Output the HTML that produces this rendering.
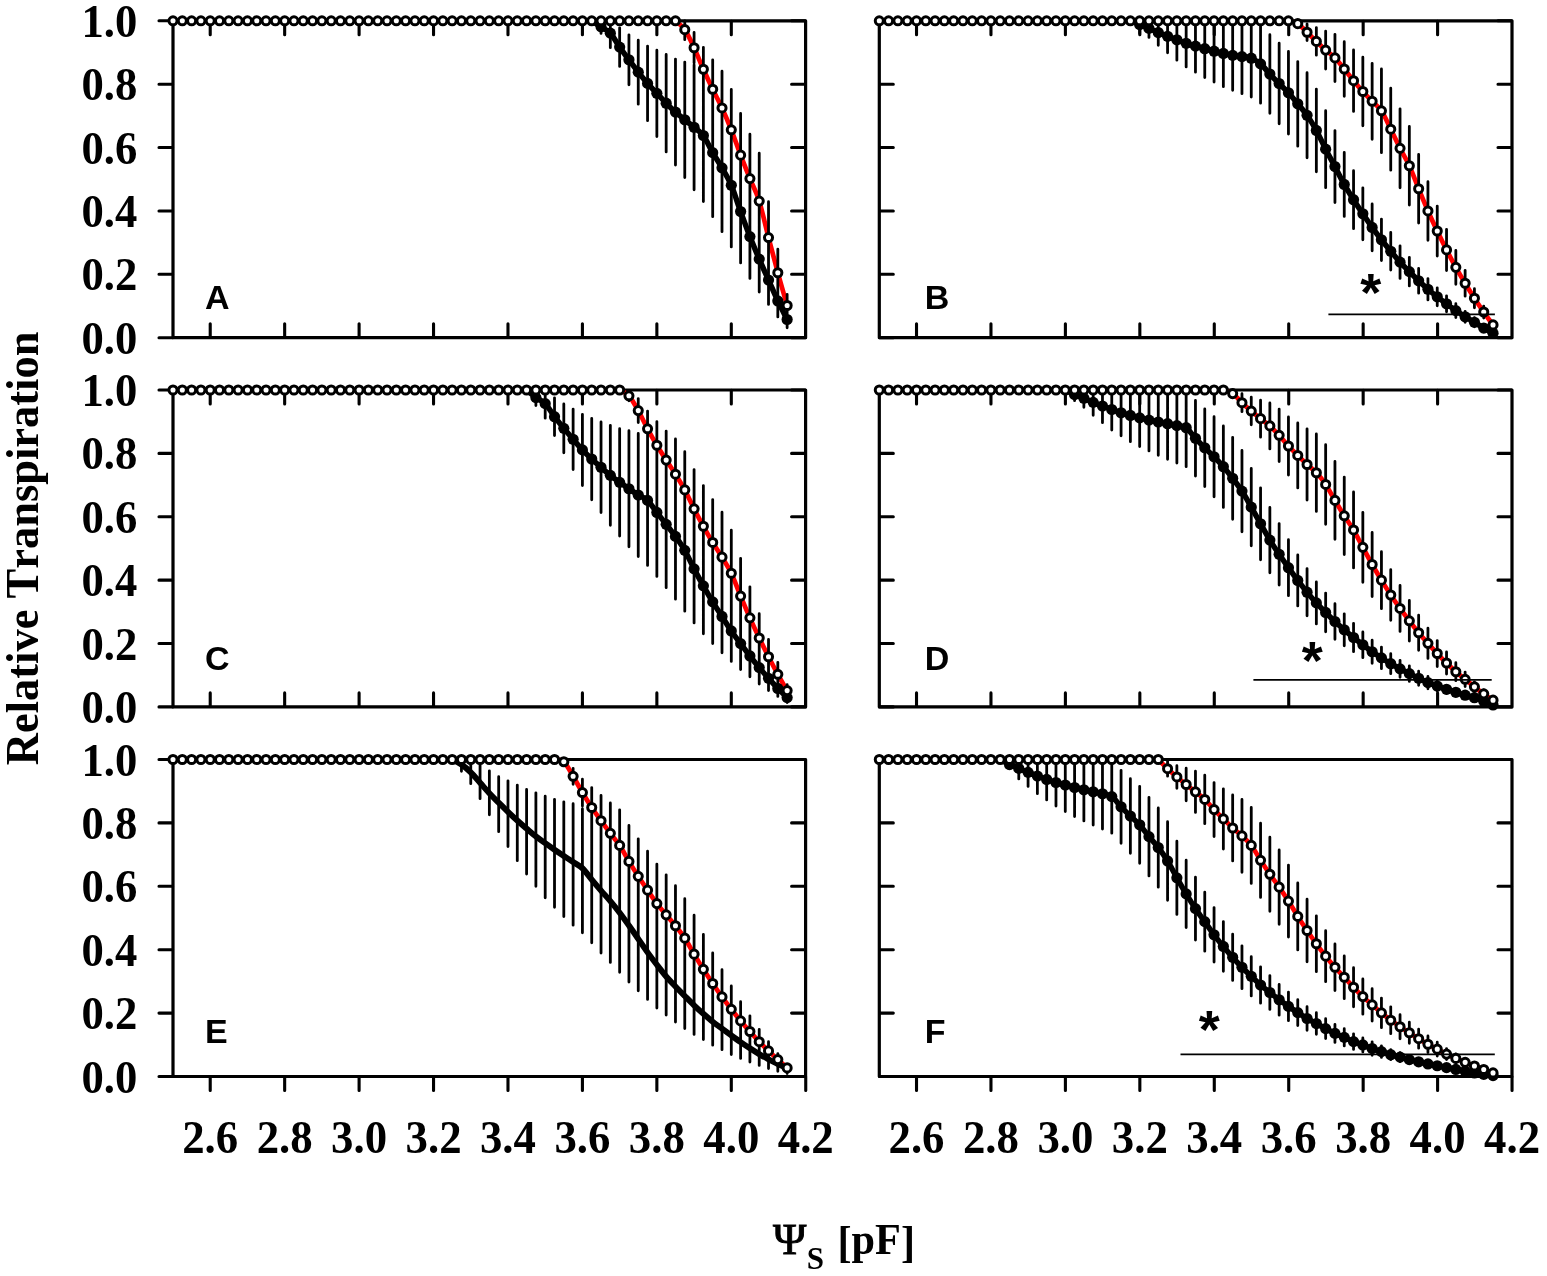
<!DOCTYPE html>
<html lang="en">
<head>
<meta charset="utf-8">
<title>Relative Transpiration vs soil water potential</title>
<style>
html,body{margin:0;padding:0;background:#fff;}
body{width:1547px;height:1276px;overflow:hidden;}
svg{display:block;}
text{fill:#000;font-kerning:none;}

.tk{font-family:"Liberation Serif","DejaVu Serif",serif;font-weight:bold;font-size:46px;}
.ax{font-family:"Liberation Serif","DejaVu Serif",serif;font-weight:bold;font-size:47px;}
.sub{font-family:"Liberation Serif","DejaVu Serif",serif;font-weight:bold;font-size:31px;}
.pl{font-family:"Liberation Sans","DejaVu Sans",sans-serif;font-weight:bold;font-size:34px;}
.star{font-family:"Liberation Sans","DejaVu Sans",sans-serif;font-weight:bold;font-size:54px;}
</style>
</head>
<body>
<svg width="1547" height="1276" viewBox="0 0 1547 1276">
<rect width="1547" height="1276" fill="#fff"/>
<g id="panelA">
<rect x="173" y="20.8" width="632.6" height="316.9" fill="none" stroke="#000" stroke-width="3.2" stroke-linejoin="round"/>
<path d="M159 337.7H172.6M791.6 337.7H805.2M159 274.32H172.6M791.6 274.32H805.2M159 210.94H172.6M791.6 210.94H805.2M159 147.56H172.6M791.6 147.56H805.2M159 84.18H172.6M791.6 84.18H805.2M159 20.8H172.6M791.6 20.8H805.2M210.22 21.2V34.8M210.22 323.7V337.3M284.66 21.2V34.8M284.66 323.7V337.3M359.1 21.2V34.8M359.1 323.7V337.3M433.54 21.2V34.8M433.54 323.7V337.3M507.98 21.2V34.8M507.98 323.7V337.3M582.42 21.2V34.8M582.42 323.7V337.3M656.86 21.2V34.8M656.86 323.7V337.3M731.3 21.2V34.8M731.3 323.7V337.3" fill="none" stroke="#000" stroke-width="3.1" stroke-linecap="round"/>
<path d="M675.47 20.8C677.02 22.28 681.67 25.18 684.77 29.67C687.88 34.16 690.98 41.13 694.08 47.74C697.18 54.34 700.28 62.37 703.38 69.29C706.49 76.2 709.59 82.81 712.69 89.25C715.79 95.69 718.89 101.19 722 107.95C725.1 114.71 728.2 121.94 731.3 129.81C734.4 137.68 737.5 147.03 740.61 155.17C743.71 163.3 746.81 170.96 749.91 178.62C753.01 186.27 756.11 191.29 759.22 201.12C762.32 210.94 765.42 225.62 768.52 237.56C771.62 249.5 774.72 261.41 777.82 272.74C780.93 284.06 785.58 300.07 787.13 305.53" fill="none" stroke="#f00" stroke-width="4.7" stroke-linejoin="round"/>
<path d="M684.77 20.8V39.67M694.08 32.44V63.04M703.38 47.29V91.29M712.69 59.85V118.65M722 71.15V144.75M731.3 89.41V170.21M740.61 113.47V196.87M749.91 134.22V223.02M759.22 153.22V249.02M768.52 201.76V273.36M777.82 249.24V296.24M787.13 294.33V316.73M601.03 20.8V33.42M610.34 20.8V47.66M619.64 27.8V66.4M628.94 34.78V84.78M638.25 40.14V104.14M647.56 46.09V120.69M656.86 50.17V136.57M666.17 54.49V151.89M675.47 59.07V165.07M684.77 62.1V177.5M694.08 64.78V189.78M703.38 69.52V201.52M712.69 88.63V216.63M722 104.04V231.64M731.3 123.57V246.97M740.61 160.17V262.97M749.91 194.81V278.41M759.22 226.11V292.11M768.52 255.62V304.42M777.82 284.94V316.94M787.13 311.18V327.78" fill="none" stroke="#000" stroke-width="2.8" stroke-linecap="round"/>
<path d="M591.72 20.8C593.28 21.8 597.93 24.76 601.03 26.82C604.13 28.88 607.23 29.78 610.34 33.16C613.44 36.54 616.54 42.67 619.64 47.1C622.74 51.54 625.84 55.61 628.94 59.78C632.05 63.95 635.15 68.2 638.25 72.14C641.35 76.07 644.45 79.85 647.56 83.39C650.66 86.93 653.76 90.07 656.86 93.37C659.96 96.67 663.06 100.08 666.17 103.19C669.27 106.31 672.37 109.3 675.47 112.07C678.57 114.83 681.67 117.26 684.77 119.8C687.88 122.33 690.98 124.66 694.08 127.28C697.18 129.9 700.28 131.29 703.38 135.52C706.49 139.74 709.59 147.24 712.69 152.63C715.79 158.02 718.89 162.4 722 167.84C725.1 173.28 728.2 177.98 731.3 185.27C734.4 192.56 737.5 203.02 740.61 211.57C743.71 220.13 746.81 228.69 749.91 236.61C753.01 244.53 756.11 251.87 759.22 259.11C762.32 266.34 765.42 273.05 768.52 280.02C771.62 287 774.72 294.36 777.82 300.94C780.93 307.52 785.58 316.39 787.13 319.48" fill="none" stroke="#000" stroke-width="5.5" stroke-linejoin="round" stroke-linecap="round"/>
<g fill="#000"><circle cx="601.03" cy="26.82" r="5.6"/><circle cx="610.34" cy="33.16" r="5.6"/><circle cx="619.64" cy="47.1" r="5.6"/><circle cx="628.94" cy="59.78" r="5.6"/><circle cx="638.25" cy="72.14" r="5.6"/><circle cx="647.56" cy="83.39" r="5.6"/><circle cx="656.86" cy="93.37" r="5.6"/><circle cx="666.17" cy="103.19" r="5.6"/><circle cx="675.47" cy="112.07" r="5.6"/><circle cx="684.77" cy="119.8" r="5.6"/><circle cx="694.08" cy="127.28" r="5.6"/><circle cx="703.38" cy="135.52" r="5.6"/><circle cx="712.69" cy="152.63" r="5.6"/><circle cx="722" cy="167.84" r="5.6"/><circle cx="731.3" cy="185.27" r="5.6"/><circle cx="740.61" cy="211.57" r="5.6"/><circle cx="749.91" cy="236.61" r="5.6"/><circle cx="759.22" cy="259.11" r="5.6"/><circle cx="768.52" cy="280.02" r="5.6"/><circle cx="777.82" cy="300.94" r="5.6"/><circle cx="787.13" cy="319.48" r="5.6"/></g>
<g fill="#fff" stroke="#000" stroke-width="3.0"><circle cx="173" cy="20.8" r="4.05"/><circle cx="182.31" cy="20.8" r="4.05"/><circle cx="191.61" cy="20.8" r="4.05"/><circle cx="200.91" cy="20.8" r="4.05"/><circle cx="210.22" cy="20.8" r="4.05"/><circle cx="219.53" cy="20.8" r="4.05"/><circle cx="228.83" cy="20.8" r="4.05"/><circle cx="238.13" cy="20.8" r="4.05"/><circle cx="247.44" cy="20.8" r="4.05"/><circle cx="256.75" cy="20.8" r="4.05"/><circle cx="266.05" cy="20.8" r="4.05"/><circle cx="275.36" cy="20.8" r="4.05"/><circle cx="284.66" cy="20.8" r="4.05"/><circle cx="293.97" cy="20.8" r="4.05"/><circle cx="303.27" cy="20.8" r="4.05"/><circle cx="312.57" cy="20.8" r="4.05"/><circle cx="321.88" cy="20.8" r="4.05"/><circle cx="331.19" cy="20.8" r="4.05"/><circle cx="340.49" cy="20.8" r="4.05"/><circle cx="349.8" cy="20.8" r="4.05"/><circle cx="359.1" cy="20.8" r="4.05"/><circle cx="368.4" cy="20.8" r="4.05"/><circle cx="377.71" cy="20.8" r="4.05"/><circle cx="387.01" cy="20.8" r="4.05"/><circle cx="396.32" cy="20.8" r="4.05"/><circle cx="405.62" cy="20.8" r="4.05"/><circle cx="414.93" cy="20.8" r="4.05"/><circle cx="424.24" cy="20.8" r="4.05"/><circle cx="433.54" cy="20.8" r="4.05"/><circle cx="442.85" cy="20.8" r="4.05"/><circle cx="452.15" cy="20.8" r="4.05"/><circle cx="461.45" cy="20.8" r="4.05"/><circle cx="470.76" cy="20.8" r="4.05"/><circle cx="480.06" cy="20.8" r="4.05"/><circle cx="489.37" cy="20.8" r="4.05"/><circle cx="498.68" cy="20.8" r="4.05"/><circle cx="507.98" cy="20.8" r="4.05"/><circle cx="517.29" cy="20.8" r="4.05"/><circle cx="526.59" cy="20.8" r="4.05"/><circle cx="535.89" cy="20.8" r="4.05"/><circle cx="545.2" cy="20.8" r="4.05"/><circle cx="554.51" cy="20.8" r="4.05"/><circle cx="563.81" cy="20.8" r="4.05"/><circle cx="573.12" cy="20.8" r="4.05"/><circle cx="582.42" cy="20.8" r="4.05"/><circle cx="591.72" cy="20.8" r="4.05"/><circle cx="601.03" cy="20.8" r="4.05"/><circle cx="610.34" cy="20.8" r="4.05"/><circle cx="619.64" cy="20.8" r="4.05"/><circle cx="628.94" cy="20.8" r="4.05"/><circle cx="638.25" cy="20.8" r="4.05"/><circle cx="647.56" cy="20.8" r="4.05"/><circle cx="656.86" cy="20.8" r="4.05"/><circle cx="666.17" cy="20.8" r="4.05"/><circle cx="675.47" cy="20.8" r="4.05"/><circle cx="684.77" cy="29.67" r="4.05"/><circle cx="694.08" cy="47.74" r="4.05"/><circle cx="703.38" cy="69.29" r="4.05"/><circle cx="712.69" cy="89.25" r="4.05"/><circle cx="722" cy="107.95" r="4.05"/><circle cx="731.3" cy="129.81" r="4.05"/><circle cx="740.61" cy="155.17" r="4.05"/><circle cx="749.91" cy="178.62" r="4.05"/><circle cx="759.22" cy="201.12" r="4.05"/><circle cx="768.52" cy="237.56" r="4.05"/><circle cx="777.82" cy="272.74" r="4.05"/><circle cx="787.13" cy="305.53" r="4.05"/></g>
<text class="pl" x="205.1" y="308.5">A</text>
<text class="tk" x="137.3" y="353.7" text-anchor="end" textLength="55.8" lengthAdjust="spacingAndGlyphs">0.0</text>
<text class="tk" x="137.3" y="290.32" text-anchor="end" textLength="55.8" lengthAdjust="spacingAndGlyphs">0.2</text>
<text class="tk" x="137.3" y="226.94" text-anchor="end" textLength="55.8" lengthAdjust="spacingAndGlyphs">0.4</text>
<text class="tk" x="137.3" y="163.56" text-anchor="end" textLength="55.8" lengthAdjust="spacingAndGlyphs">0.6</text>
<text class="tk" x="137.3" y="100.18" text-anchor="end" textLength="55.8" lengthAdjust="spacingAndGlyphs">0.8</text>
<text class="tk" x="137.3" y="36.8" text-anchor="end" textLength="55.8" lengthAdjust="spacingAndGlyphs">1.0</text>
</g>
<g id="panelB">
<rect x="879.3" y="20.8" width="632.7" height="316.9" fill="none" stroke="#000" stroke-width="3.2" stroke-linejoin="round"/>
<path d="M879.7 337.7H893.3M1498 337.7H1511.6M879.7 274.32H893.3M1498 274.32H1511.6M879.7 210.94H893.3M1498 210.94H1511.6M879.7 147.56H893.3M1498 147.56H1511.6M879.7 84.18H893.3M1498 84.18H1511.6M879.7 20.8H893.3M1498 20.8H1511.6M916.52 21.2V34.8M916.52 323.7V337.3M990.96 21.2V34.8M990.96 323.7V337.3M1065.4 21.2V34.8M1065.4 323.7V337.3M1139.84 21.2V34.8M1139.84 323.7V337.3M1214.28 21.2V34.8M1214.28 323.7V337.3M1288.72 21.2V34.8M1288.72 323.7V337.3M1363.16 21.2V34.8M1363.16 323.7V337.3M1437.6 21.2V34.8M1437.6 323.7V337.3" fill="none" stroke="#000" stroke-width="3.1" stroke-linecap="round"/>
<path d="M1288.45 20.8C1290 21.28 1294.65 21.75 1297.75 23.65C1300.85 25.55 1303.95 29.25 1307.05 32.21C1310.15 35.17 1313.25 38.41 1316.35 41.4C1319.45 44.38 1322.55 47.37 1325.65 50.11C1328.75 52.86 1331.85 54.73 1334.95 57.88C1338.05 61.02 1341.15 65.17 1344.25 68.97C1347.35 72.77 1350.45 76.94 1353.55 80.69C1356.65 84.44 1359.75 88.04 1362.84 91.47C1365.94 94.9 1369.04 98.07 1372.14 101.29C1375.24 104.51 1378.34 106.15 1381.44 110.8C1384.54 115.45 1387.64 122.92 1390.74 129.18C1393.84 135.44 1396.94 142.25 1400.04 148.35C1403.14 154.45 1406.24 159.05 1409.34 165.78C1412.44 172.52 1415.54 181.23 1418.64 188.76C1421.74 196.28 1424.84 203.89 1427.94 210.94C1431.04 217.99 1434.14 224.54 1437.24 231.03C1440.34 237.53 1443.44 243.87 1446.54 249.92C1449.63 255.97 1452.73 261.79 1455.83 267.35C1458.93 272.9 1462.03 278.11 1465.13 283.26C1468.23 288.41 1471.33 293.45 1474.43 298.25C1477.53 303.04 1480.63 307.59 1483.73 312.03C1486.83 316.47 1491.48 322.75 1493.03 324.9" fill="none" stroke="#f00" stroke-width="4.7" stroke-linejoin="round"/>
<path d="M1297.75 20.8V27.65M1307.05 23.91V40.51M1316.35 27.6V55.2M1325.65 31.21V69.01M1334.95 34.28V81.48M1344.25 41.67V96.27M1353.55 49.99V111.39M1362.84 57.17V125.77M1372.14 63.29V139.29M1381.44 68.9V152.7M1390.74 88.18V170.18M1400.04 108.85V187.85M1409.34 126.48V205.08M1418.64 154.46V223.06M1427.94 181.64V240.24M1437.24 206.03V256.03M1446.54 229.32V270.52M1455.83 250.45V284.25M1465.13 270.36V296.16M1474.43 288.75V307.75M1483.73 306.03V318.03M1493.03 321.9V327.9M1139.67 20.8V33.6M1148.97 20.8V37.41M1158.27 20.8V45.33M1167.57 20.8V52.73M1176.87 20.8V60.21M1186.16 20.8V66.9M1195.46 20.8V72.15M1204.76 20.8V77.49M1214.06 20.8V82.02M1223.36 20.8V86.64M1232.66 20.8V90.24M1241.96 20.8V93.71M1251.26 20.8V96.99M1260.56 24.6V103.2M1269.86 34.74V113.34M1279.15 43.25V123.85M1288.45 51.44V134.04M1297.75 61.53V146.13M1307.05 72.74V157.74M1316.35 89.05V171.85M1325.65 110.64V187.64M1334.95 130.57V202.57M1344.25 152.45V216.45M1353.55 170.72V228.72M1362.84 187.79V239.79M1372.14 204.02V250.82M1381.44 219.08V260.48M1390.74 232.45V270.05M1400.04 245.85V278.45M1409.34 257.33V285.93M1418.64 268.38V293.18M1427.94 278.55V299.95M1437.24 287.82V305.82M1446.54 295.79V311.79M1455.83 303.71V317.51M1465.13 311.28V322.28M1474.43 317.77V326.77M1483.73 324.57V331.57M1493.03 330.67V335.67" fill="none" stroke="#000" stroke-width="2.8" stroke-linecap="round"/>
<path d="M1130.37 20.8C1131.92 21.43 1136.57 23.34 1139.67 24.6C1142.77 25.87 1145.87 27.09 1148.97 28.41C1152.07 29.73 1155.17 31.2 1158.27 32.53C1161.37 33.85 1164.47 35.11 1167.57 36.33C1170.67 37.54 1173.77 38.65 1176.87 39.81C1179.97 40.98 1183.07 42.24 1186.16 43.3C1189.26 44.36 1192.36 45.25 1195.46 46.15C1198.56 47.05 1201.66 47.84 1204.76 48.69C1207.86 49.53 1210.96 50.43 1214.06 51.22C1217.16 52.01 1220.26 52.75 1223.36 53.44C1226.46 54.13 1229.56 54.81 1232.66 55.34C1235.76 55.87 1238.86 56.13 1241.96 56.61C1245.06 57.09 1248.16 56.98 1251.26 58.19C1254.36 59.41 1257.46 61.26 1260.56 63.9C1263.66 66.54 1266.76 70.76 1269.86 74.04C1272.96 77.31 1276.05 80.43 1279.15 83.55C1282.25 86.66 1285.35 89.36 1288.45 92.74C1291.55 96.12 1294.65 100.08 1297.75 103.83C1300.85 107.58 1303.95 110.8 1307.05 115.24C1310.15 119.67 1313.25 124.8 1316.35 130.45C1319.45 136.1 1322.55 143.12 1325.65 149.14C1328.75 155.17 1331.85 160.69 1334.95 166.57C1338.05 172.46 1341.15 178.92 1344.25 184.45C1347.35 189.97 1350.45 194.83 1353.55 199.72C1356.65 204.61 1359.75 209.18 1362.84 213.79C1365.94 218.41 1369.04 223.09 1372.14 227.42C1375.24 231.75 1378.34 235.81 1381.44 239.78C1384.54 243.75 1387.64 247.52 1390.74 251.25C1393.84 254.98 1396.94 258.75 1400.04 262.15C1403.14 265.55 1406.24 268.52 1409.34 271.63C1412.44 274.73 1415.54 277.85 1418.64 280.78C1421.74 283.72 1424.84 286.57 1427.94 289.25C1431.04 291.92 1434.14 294.4 1437.24 296.82C1440.34 299.24 1443.44 301.49 1446.54 303.79C1449.63 306.09 1452.73 308.44 1455.83 310.61C1458.93 312.77 1462.03 314.84 1465.13 316.78C1468.23 318.73 1471.33 320.39 1474.43 322.27C1477.53 324.15 1480.63 326.25 1483.73 328.07C1486.83 329.88 1491.48 332.32 1493.03 333.17" fill="none" stroke="#000" stroke-width="5.5" stroke-linejoin="round" stroke-linecap="round"/>
<g fill="#000"><circle cx="1139.67" cy="24.6" r="5.6"/><circle cx="1148.97" cy="28.41" r="5.6"/><circle cx="1158.27" cy="32.53" r="5.6"/><circle cx="1167.57" cy="36.33" r="5.6"/><circle cx="1176.87" cy="39.81" r="5.6"/><circle cx="1186.16" cy="43.3" r="5.6"/><circle cx="1195.46" cy="46.15" r="5.6"/><circle cx="1204.76" cy="48.69" r="5.6"/><circle cx="1214.06" cy="51.22" r="5.6"/><circle cx="1223.36" cy="53.44" r="5.6"/><circle cx="1232.66" cy="55.34" r="5.6"/><circle cx="1241.96" cy="56.61" r="5.6"/><circle cx="1251.26" cy="58.19" r="5.6"/><circle cx="1260.56" cy="63.9" r="5.6"/><circle cx="1269.86" cy="74.04" r="5.6"/><circle cx="1279.15" cy="83.55" r="5.6"/><circle cx="1288.45" cy="92.74" r="5.6"/><circle cx="1297.75" cy="103.83" r="5.6"/><circle cx="1307.05" cy="115.24" r="5.6"/><circle cx="1316.35" cy="130.45" r="5.6"/><circle cx="1325.65" cy="149.14" r="5.6"/><circle cx="1334.95" cy="166.57" r="5.6"/><circle cx="1344.25" cy="184.45" r="5.6"/><circle cx="1353.55" cy="199.72" r="5.6"/><circle cx="1362.84" cy="213.79" r="5.6"/><circle cx="1372.14" cy="227.42" r="5.6"/><circle cx="1381.44" cy="239.78" r="5.6"/><circle cx="1390.74" cy="251.25" r="5.6"/><circle cx="1400.04" cy="262.15" r="5.6"/><circle cx="1409.34" cy="271.63" r="5.6"/><circle cx="1418.64" cy="280.78" r="5.6"/><circle cx="1427.94" cy="289.25" r="5.6"/><circle cx="1437.24" cy="296.82" r="5.6"/><circle cx="1446.54" cy="303.79" r="5.6"/><circle cx="1455.83" cy="310.61" r="5.6"/><circle cx="1465.13" cy="316.78" r="5.6"/><circle cx="1474.43" cy="322.27" r="5.6"/><circle cx="1483.73" cy="328.07" r="5.6"/><circle cx="1493.03" cy="333.17" r="5.6"/></g>
<g fill="#fff" stroke="#000" stroke-width="3.0"><circle cx="879.3" cy="20.8" r="4.05"/><circle cx="888.6" cy="20.8" r="4.05"/><circle cx="897.9" cy="20.8" r="4.05"/><circle cx="907.2" cy="20.8" r="4.05"/><circle cx="916.5" cy="20.8" r="4.05"/><circle cx="925.79" cy="20.8" r="4.05"/><circle cx="935.09" cy="20.8" r="4.05"/><circle cx="944.39" cy="20.8" r="4.05"/><circle cx="953.69" cy="20.8" r="4.05"/><circle cx="962.99" cy="20.8" r="4.05"/><circle cx="972.29" cy="20.8" r="4.05"/><circle cx="981.59" cy="20.8" r="4.05"/><circle cx="990.89" cy="20.8" r="4.05"/><circle cx="1000.19" cy="20.8" r="4.05"/><circle cx="1009.49" cy="20.8" r="4.05"/><circle cx="1018.78" cy="20.8" r="4.05"/><circle cx="1028.08" cy="20.8" r="4.05"/><circle cx="1037.38" cy="20.8" r="4.05"/><circle cx="1046.68" cy="20.8" r="4.05"/><circle cx="1055.98" cy="20.8" r="4.05"/><circle cx="1065.28" cy="20.8" r="4.05"/><circle cx="1074.58" cy="20.8" r="4.05"/><circle cx="1083.88" cy="20.8" r="4.05"/><circle cx="1093.18" cy="20.8" r="4.05"/><circle cx="1102.47" cy="20.8" r="4.05"/><circle cx="1111.77" cy="20.8" r="4.05"/><circle cx="1121.07" cy="20.8" r="4.05"/><circle cx="1130.37" cy="20.8" r="4.05"/><circle cx="1139.67" cy="20.8" r="4.05"/><circle cx="1148.97" cy="20.8" r="4.05"/><circle cx="1158.27" cy="20.8" r="4.05"/><circle cx="1167.57" cy="20.8" r="4.05"/><circle cx="1176.87" cy="20.8" r="4.05"/><circle cx="1186.16" cy="20.8" r="4.05"/><circle cx="1195.46" cy="20.8" r="4.05"/><circle cx="1204.76" cy="20.8" r="4.05"/><circle cx="1214.06" cy="20.8" r="4.05"/><circle cx="1223.36" cy="20.8" r="4.05"/><circle cx="1232.66" cy="20.8" r="4.05"/><circle cx="1241.96" cy="20.8" r="4.05"/><circle cx="1251.26" cy="20.8" r="4.05"/><circle cx="1260.56" cy="20.8" r="4.05"/><circle cx="1269.86" cy="20.8" r="4.05"/><circle cx="1279.15" cy="20.8" r="4.05"/><circle cx="1288.45" cy="20.8" r="4.05"/><circle cx="1297.75" cy="23.65" r="4.05"/><circle cx="1307.05" cy="32.21" r="4.05"/><circle cx="1316.35" cy="41.4" r="4.05"/><circle cx="1325.65" cy="50.11" r="4.05"/><circle cx="1334.95" cy="57.88" r="4.05"/><circle cx="1344.25" cy="68.97" r="4.05"/><circle cx="1353.55" cy="80.69" r="4.05"/><circle cx="1362.84" cy="91.47" r="4.05"/><circle cx="1372.14" cy="101.29" r="4.05"/><circle cx="1381.44" cy="110.8" r="4.05"/><circle cx="1390.74" cy="129.18" r="4.05"/><circle cx="1400.04" cy="148.35" r="4.05"/><circle cx="1409.34" cy="165.78" r="4.05"/><circle cx="1418.64" cy="188.76" r="4.05"/><circle cx="1427.94" cy="210.94" r="4.05"/><circle cx="1437.24" cy="231.03" r="4.05"/><circle cx="1446.54" cy="249.92" r="4.05"/><circle cx="1455.83" cy="267.35" r="4.05"/><circle cx="1465.13" cy="283.26" r="4.05"/><circle cx="1474.43" cy="298.25" r="4.05"/><circle cx="1483.73" cy="312.03" r="4.05"/><circle cx="1493.03" cy="324.9" r="4.05"/></g>
<path d="M1328.4 314.3H1494.9" stroke="#000" stroke-width="1.7" fill="none"/>
<text class="star" x="1370.8" y="311.1" text-anchor="middle">*</text>
<text class="pl" x="924.7" y="308.5">B</text>
</g>
<g id="panelC">
<rect x="173" y="390" width="632.6" height="316.9" fill="none" stroke="#000" stroke-width="3.2" stroke-linejoin="round"/>
<path d="M159 706.9H172.6M791.6 706.9H805.2M159 643.52H172.6M791.6 643.52H805.2M159 580.14H172.6M791.6 580.14H805.2M159 516.76H172.6M791.6 516.76H805.2M159 453.38H172.6M791.6 453.38H805.2M159 390H172.6M791.6 390H805.2M210.22 390.4V404M210.22 692.9V706.5M284.66 390.4V404M284.66 692.9V706.5M359.1 390.4V404M359.1 692.9V706.5M433.54 390.4V404M433.54 692.9V706.5M507.98 390.4V404M507.98 692.9V706.5M582.42 390.4V404M582.42 692.9V706.5M656.86 390.4V404M656.86 692.9V706.5M731.3 390.4V404M731.3 692.9V706.5" fill="none" stroke="#000" stroke-width="3.1" stroke-linecap="round"/>
<path d="M619.64 390C621.19 390.97 625.84 392.37 628.94 395.8C632.05 399.23 635.15 405.1 638.25 410.6C641.35 416.1 644.45 423.05 647.56 428.82C650.66 434.59 653.76 440.02 656.86 445.24C659.96 450.45 663.06 455.27 666.17 460.1C669.27 464.93 672.37 469.23 675.47 474.2C678.57 479.17 681.67 484.15 684.77 489.92C687.88 495.69 690.98 502.78 694.08 508.84C697.18 514.9 700.28 520.67 703.38 526.27C706.49 531.87 709.59 537.28 712.69 542.43C715.79 547.58 718.89 552.03 722 557.16C725.1 562.3 728.2 566.75 731.3 573.23C734.4 579.72 737.5 588.64 740.61 596.08C743.71 603.52 746.81 610.87 749.91 617.85C753.01 624.83 756.11 631.49 759.22 637.97C762.32 644.45 765.42 650.68 768.52 656.73C771.62 662.79 774.72 668.68 777.82 674.32C780.93 679.97 785.58 687.9 787.13 690.61" fill="none" stroke="#f00" stroke-width="4.7" stroke-linejoin="round"/>
<path d="M628.94 390.8V400.8M638.25 398.6V422.6M647.56 411.12V446.52M656.86 421.54V468.94M666.17 431.1V489.1M675.47 439V509.4M684.77 451.72V528.12M694.08 469.54V548.14M703.38 485.57V566.97M712.69 499.53V585.33M722 512.16V602.16M731.3 530.23V616.23M740.61 558.28V633.88M749.91 586.85V648.85M759.22 613.77V662.17M768.52 639.43V674.03M777.82 662.32V686.32M787.13 684.61V696.61M535.89 390V405.61M545.2 390V418.13M554.51 397.81V435.61M563.81 403.94V452.74M573.12 409.11V469.51M582.42 414.29V485.49M591.72 418.38V499.78M601.03 422.02V512.62M610.34 425.37V525.37M619.64 428.64V536.04M628.94 430.75V546.75M638.25 433.52V556.52M647.56 435.41V565.41M656.86 448.45V576.45M666.17 461.07V587.67M675.47 473.61V599.21M684.77 489.55V611.15M694.08 514.76V622.96M703.38 537.84V633.84M712.69 560.18V643.58M722 580.03V652.83M731.3 600.47V661.47M740.61 617.72V669.52M749.91 635.17V676.77M759.22 651.2V684M768.52 665.95V690.55M777.82 680.42V696.42M787.13 692.61V702.61" fill="none" stroke="#000" stroke-width="2.8" stroke-linecap="round"/>
<path d="M526.59 390C528.14 391.27 532.79 395.33 535.89 397.61C539 399.88 542.1 400.44 545.2 403.63C548.3 406.81 551.4 412.59 554.51 416.71C557.61 420.83 560.71 424.58 563.81 428.34C566.91 432.11 570.01 435.72 573.12 439.31C576.22 442.9 579.32 446.6 582.42 449.89C585.52 453.19 588.62 456.18 591.72 459.08C594.83 461.99 597.93 464.61 601.03 467.32C604.13 470.04 607.23 472.87 610.34 475.37C613.44 477.88 616.54 480.12 619.64 482.34C622.74 484.57 625.84 486.63 628.94 488.75C632.05 490.86 635.15 493.08 638.25 495.02C641.35 496.96 644.45 497.5 647.56 500.41C650.66 503.31 653.76 508.46 656.86 512.45C659.96 516.44 663.06 520.37 666.17 524.37C669.27 528.36 672.37 532.08 675.47 536.41C678.57 540.74 681.67 544.94 684.77 550.35C687.88 555.76 690.98 562.94 694.08 568.86C697.18 574.77 700.28 580.34 703.38 585.84C706.49 591.35 709.59 596.78 712.69 601.88C715.79 606.98 718.89 611.58 722 616.43C725.1 621.27 728.2 626.44 731.3 630.97C734.4 635.5 737.5 639.45 740.61 643.62C743.71 647.78 746.81 651.98 749.91 655.97C753.01 659.97 756.11 663.89 759.22 667.6C762.32 671.32 765.42 674.78 768.52 678.25C771.62 681.72 774.72 685.2 777.82 688.42C780.93 691.65 785.58 696.08 787.13 697.61" fill="none" stroke="#000" stroke-width="5.5" stroke-linejoin="round" stroke-linecap="round"/>
<g fill="#000"><circle cx="535.89" cy="397.61" r="5.6"/><circle cx="545.2" cy="403.63" r="5.6"/><circle cx="554.51" cy="416.71" r="5.6"/><circle cx="563.81" cy="428.34" r="5.6"/><circle cx="573.12" cy="439.31" r="5.6"/><circle cx="582.42" cy="449.89" r="5.6"/><circle cx="591.72" cy="459.08" r="5.6"/><circle cx="601.03" cy="467.32" r="5.6"/><circle cx="610.34" cy="475.37" r="5.6"/><circle cx="619.64" cy="482.34" r="5.6"/><circle cx="628.94" cy="488.75" r="5.6"/><circle cx="638.25" cy="495.02" r="5.6"/><circle cx="647.56" cy="500.41" r="5.6"/><circle cx="656.86" cy="512.45" r="5.6"/><circle cx="666.17" cy="524.37" r="5.6"/><circle cx="675.47" cy="536.41" r="5.6"/><circle cx="684.77" cy="550.35" r="5.6"/><circle cx="694.08" cy="568.86" r="5.6"/><circle cx="703.38" cy="585.84" r="5.6"/><circle cx="712.69" cy="601.88" r="5.6"/><circle cx="722" cy="616.43" r="5.6"/><circle cx="731.3" cy="630.97" r="5.6"/><circle cx="740.61" cy="643.62" r="5.6"/><circle cx="749.91" cy="655.97" r="5.6"/><circle cx="759.22" cy="667.6" r="5.6"/><circle cx="768.52" cy="678.25" r="5.6"/><circle cx="777.82" cy="688.42" r="5.6"/><circle cx="787.13" cy="697.61" r="5.6"/></g>
<g fill="#fff" stroke="#000" stroke-width="3.0"><circle cx="173" cy="390" r="4.05"/><circle cx="182.31" cy="390" r="4.05"/><circle cx="191.61" cy="390" r="4.05"/><circle cx="200.91" cy="390" r="4.05"/><circle cx="210.22" cy="390" r="4.05"/><circle cx="219.53" cy="390" r="4.05"/><circle cx="228.83" cy="390" r="4.05"/><circle cx="238.13" cy="390" r="4.05"/><circle cx="247.44" cy="390" r="4.05"/><circle cx="256.75" cy="390" r="4.05"/><circle cx="266.05" cy="390" r="4.05"/><circle cx="275.36" cy="390" r="4.05"/><circle cx="284.66" cy="390" r="4.05"/><circle cx="293.97" cy="390" r="4.05"/><circle cx="303.27" cy="390" r="4.05"/><circle cx="312.57" cy="390" r="4.05"/><circle cx="321.88" cy="390" r="4.05"/><circle cx="331.19" cy="390" r="4.05"/><circle cx="340.49" cy="390" r="4.05"/><circle cx="349.8" cy="390" r="4.05"/><circle cx="359.1" cy="390" r="4.05"/><circle cx="368.4" cy="390" r="4.05"/><circle cx="377.71" cy="390" r="4.05"/><circle cx="387.01" cy="390" r="4.05"/><circle cx="396.32" cy="390" r="4.05"/><circle cx="405.62" cy="390" r="4.05"/><circle cx="414.93" cy="390" r="4.05"/><circle cx="424.24" cy="390" r="4.05"/><circle cx="433.54" cy="390" r="4.05"/><circle cx="442.85" cy="390" r="4.05"/><circle cx="452.15" cy="390" r="4.05"/><circle cx="461.45" cy="390" r="4.05"/><circle cx="470.76" cy="390" r="4.05"/><circle cx="480.06" cy="390" r="4.05"/><circle cx="489.37" cy="390" r="4.05"/><circle cx="498.68" cy="390" r="4.05"/><circle cx="507.98" cy="390" r="4.05"/><circle cx="517.29" cy="390" r="4.05"/><circle cx="526.59" cy="390" r="4.05"/><circle cx="535.89" cy="390" r="4.05"/><circle cx="545.2" cy="390" r="4.05"/><circle cx="554.51" cy="390" r="4.05"/><circle cx="563.81" cy="390" r="4.05"/><circle cx="573.12" cy="390" r="4.05"/><circle cx="582.42" cy="390" r="4.05"/><circle cx="591.72" cy="390" r="4.05"/><circle cx="601.03" cy="390" r="4.05"/><circle cx="610.34" cy="390" r="4.05"/><circle cx="619.64" cy="390" r="4.05"/><circle cx="628.94" cy="395.8" r="4.05"/><circle cx="638.25" cy="410.6" r="4.05"/><circle cx="647.56" cy="428.82" r="4.05"/><circle cx="656.86" cy="445.24" r="4.05"/><circle cx="666.17" cy="460.1" r="4.05"/><circle cx="675.47" cy="474.2" r="4.05"/><circle cx="684.77" cy="489.92" r="4.05"/><circle cx="694.08" cy="508.84" r="4.05"/><circle cx="703.38" cy="526.27" r="4.05"/><circle cx="712.69" cy="542.43" r="4.05"/><circle cx="722" cy="557.16" r="4.05"/><circle cx="731.3" cy="573.23" r="4.05"/><circle cx="740.61" cy="596.08" r="4.05"/><circle cx="749.91" cy="617.85" r="4.05"/><circle cx="759.22" cy="637.97" r="4.05"/><circle cx="768.52" cy="656.73" r="4.05"/><circle cx="777.82" cy="674.32" r="4.05"/><circle cx="787.13" cy="690.61" r="4.05"/></g>
<text class="pl" x="205.1" y="670">C</text>
<text class="tk" x="137.3" y="722.9" text-anchor="end" textLength="55.8" lengthAdjust="spacingAndGlyphs">0.0</text>
<text class="tk" x="137.3" y="659.52" text-anchor="end" textLength="55.8" lengthAdjust="spacingAndGlyphs">0.2</text>
<text class="tk" x="137.3" y="596.14" text-anchor="end" textLength="55.8" lengthAdjust="spacingAndGlyphs">0.4</text>
<text class="tk" x="137.3" y="532.76" text-anchor="end" textLength="55.8" lengthAdjust="spacingAndGlyphs">0.6</text>
<text class="tk" x="137.3" y="469.38" text-anchor="end" textLength="55.8" lengthAdjust="spacingAndGlyphs">0.8</text>
<text class="tk" x="137.3" y="406" text-anchor="end" textLength="55.8" lengthAdjust="spacingAndGlyphs">1.0</text>
</g>
<g id="panelD">
<rect x="879.3" y="390" width="632.7" height="316.9" fill="none" stroke="#000" stroke-width="3.2" stroke-linejoin="round"/>
<path d="M879.7 706.9H893.3M1498 706.9H1511.6M879.7 643.52H893.3M1498 643.52H1511.6M879.7 580.14H893.3M1498 580.14H1511.6M879.7 516.76H893.3M1498 516.76H1511.6M879.7 453.38H893.3M1498 453.38H1511.6M879.7 390H893.3M1498 390H1511.6M916.52 390.4V404M916.52 692.9V706.5M990.96 390.4V404M990.96 692.9V706.5M1065.4 390.4V404M1065.4 692.9V706.5M1139.84 390.4V404M1139.84 692.9V706.5M1214.28 390.4V404M1214.28 692.9V706.5M1288.72 390.4V404M1288.72 692.9V706.5M1363.16 390.4V404M1363.16 692.9V706.5M1437.6 390.4V404M1437.6 692.9V706.5" fill="none" stroke="#000" stroke-width="3.1" stroke-linecap="round"/>
<path d="M1223.36 390C1224.91 390.6 1229.56 391.5 1232.66 393.61C1235.76 395.73 1238.86 399.77 1241.96 402.68C1245.06 405.59 1248.16 408.41 1251.26 411.07C1254.36 413.74 1257.46 416.18 1260.56 418.65C1263.66 421.12 1266.76 423.13 1269.86 425.9C1272.96 428.68 1276.05 431.97 1279.15 435.32C1282.25 438.67 1285.35 442.64 1288.45 446C1291.55 449.35 1294.65 452.36 1297.75 455.44C1300.85 458.52 1303.95 461.59 1307.05 464.47C1310.15 467.35 1313.25 469.38 1316.35 472.71C1319.45 476.04 1322.55 479.82 1325.65 484.44C1328.75 489.05 1331.85 495.18 1334.95 500.41C1338.05 505.64 1341.15 510.89 1344.25 515.81C1347.35 520.73 1350.45 524.68 1353.55 529.94C1356.65 535.2 1359.75 541.62 1362.84 547.37C1365.94 553.13 1369.04 559.02 1372.14 564.49C1375.24 569.95 1378.34 575.05 1381.44 580.14C1384.54 585.23 1387.64 590.32 1390.74 595.03C1393.84 599.75 1396.94 604.15 1400.04 608.44C1403.14 612.73 1406.24 616.75 1409.34 620.8C1412.44 624.85 1415.54 628.99 1418.64 632.75C1421.74 636.5 1424.84 639.87 1427.94 643.33C1431.04 646.79 1434.14 650.26 1437.24 653.53C1440.34 656.81 1443.44 659.95 1446.54 662.98C1449.63 666.01 1452.73 669 1455.83 671.72C1458.93 674.44 1462.03 676.78 1465.13 679.3C1468.23 681.82 1471.33 684.42 1474.43 686.84C1477.53 689.26 1480.63 691.63 1483.73 693.84C1486.83 696.06 1491.48 699.1 1493.03 700.15" fill="none" stroke="#f00" stroke-width="4.7" stroke-linejoin="round"/>
<path d="M1232.66 390V397.61M1241.96 393.68V411.68M1251.26 397.27V424.87M1260.56 400.15V437.15M1269.86 402.9V448.9M1279.15 409.12V461.52M1288.45 417V475M1297.75 422.94V487.94M1307.05 428.87V500.07M1316.35 434.01V511.41M1325.65 444.64V524.24M1334.95 461.51V539.31M1344.25 477.11V554.51M1353.55 491.94V567.94M1362.84 512.37V582.37M1372.14 532.49V596.49M1381.44 551.64V608.64M1390.74 569.73V620.33M1400.04 585.44V631.44M1409.34 600.5V641.1M1418.64 615.15V650.35M1427.94 628.23V658.43M1437.24 640.53V666.53M1446.54 651.98V673.98M1455.83 662.72V680.72M1465.13 672.1V686.5M1474.43 681.84V691.84M1483.73 689.84V697.84M1493.03 697.15V703.15M1074.58 390V400.63M1083.88 390V407.24M1093.18 390V415.36M1102.47 390V422.7M1111.77 390V429.99M1121.07 390V435.82M1130.37 390V441.65M1139.67 390V446.49M1148.97 390V450.91M1158.27 390V455.31M1167.57 390V459.32M1176.87 390V463.02M1186.16 390V466.71M1195.46 400.5V476.1M1204.76 408.94V486.54M1214.06 416.74V496.74M1223.36 425.99V507.39M1232.66 437.29V519.29M1241.96 450.39V531.79M1251.26 468.39V545.79M1260.56 487.83V559.83M1269.86 507.42V572.82M1279.15 523.61V585.01M1288.45 539.69V595.69M1297.75 554.96V605.96M1307.05 568.58V615.78M1316.35 581.89V623.89M1325.65 593.06V631.86M1334.95 603.7V639.3M1344.25 613.8V645.8M1353.55 623.3V651.7M1362.84 631.89V657.69M1372.14 640.16V663.36M1381.44 647.08V668.68M1390.74 653.71V673.71M1400.04 660.37V677.37M1409.34 665.83V681.43M1418.64 671.25V685.25M1427.94 676.43V688.83M1437.24 680.98V690.98M1446.54 685.31V693.31M1455.83 688.82V695.82M1465.13 692.17V698.17M1474.43 695.21V700.21M1483.73 699.2V703.2M1493.03 703V706.9" fill="none" stroke="#000" stroke-width="2.8" stroke-linecap="round"/>
<path d="M1065.28 390C1066.83 390.77 1071.48 393.25 1074.58 394.63C1077.68 396 1080.78 396.95 1083.88 398.24C1086.98 399.53 1090.08 401.07 1093.18 402.36C1096.28 403.65 1099.37 404.82 1102.47 406C1105.57 407.19 1108.67 408.35 1111.77 409.49C1114.87 410.62 1117.97 411.82 1121.07 412.82C1124.17 413.81 1127.27 414.6 1130.37 415.45C1133.47 416.29 1136.57 417.11 1139.67 417.89C1142.77 418.66 1145.87 419.42 1148.97 420.11C1152.07 420.79 1155.17 421.4 1158.27 422.01C1161.37 422.61 1164.47 423.12 1167.57 423.72C1170.67 424.32 1173.77 424.95 1176.87 425.62C1179.97 426.29 1183.07 425.6 1186.16 427.71C1189.26 429.82 1192.36 434.96 1195.46 438.3C1198.56 441.63 1201.66 444.67 1204.76 447.74C1207.86 450.81 1210.96 453.58 1214.06 456.74C1217.16 459.9 1220.26 463.1 1223.36 466.69C1226.46 470.28 1229.56 474.22 1232.66 478.29C1235.76 482.36 1238.86 486.29 1241.96 491.09C1245.06 495.89 1248.16 501.64 1251.26 507.09C1254.36 512.55 1257.46 518.32 1260.56 523.83C1263.66 529.33 1266.76 535.03 1269.86 540.12C1272.96 545.2 1276.05 549.72 1279.15 554.31C1282.25 558.91 1285.35 563.33 1288.45 567.69C1291.55 572.04 1294.65 576.37 1297.75 580.46C1300.85 584.54 1303.95 588.44 1307.05 592.18C1310.15 595.92 1313.25 599.51 1316.35 602.89C1319.45 606.27 1322.55 609.36 1325.65 612.46C1328.75 615.56 1331.85 618.61 1334.95 621.5C1338.05 624.38 1341.15 627.13 1344.25 629.8C1347.35 632.47 1350.45 635 1353.55 637.5C1356.65 640 1359.75 642.41 1362.84 644.79C1365.94 647.16 1369.04 649.58 1372.14 651.76C1375.24 653.94 1378.34 655.88 1381.44 657.88C1384.54 659.87 1387.64 661.87 1390.74 663.71C1393.84 665.54 1396.94 667.22 1400.04 668.87C1403.14 670.53 1406.24 672.06 1409.34 673.63C1412.44 675.19 1415.54 676.75 1418.64 678.25C1421.74 679.75 1424.84 681.34 1427.94 682.63C1431.04 683.91 1434.14 684.87 1437.24 685.98C1440.34 687.1 1443.44 688.26 1446.54 689.31C1449.63 690.37 1452.73 691.35 1455.83 692.32C1458.93 693.3 1462.03 694.28 1465.13 695.17C1468.23 696.07 1471.33 696.71 1474.43 697.71C1477.53 698.71 1480.63 699.98 1483.73 701.2C1486.83 702.41 1491.48 704.36 1493.03 705" fill="none" stroke="#000" stroke-width="5.5" stroke-linejoin="round" stroke-linecap="round"/>
<g fill="#000"><circle cx="1074.58" cy="394.63" r="5.6"/><circle cx="1083.88" cy="398.24" r="5.6"/><circle cx="1093.18" cy="402.36" r="5.6"/><circle cx="1102.47" cy="406" r="5.6"/><circle cx="1111.77" cy="409.49" r="5.6"/><circle cx="1121.07" cy="412.82" r="5.6"/><circle cx="1130.37" cy="415.45" r="5.6"/><circle cx="1139.67" cy="417.89" r="5.6"/><circle cx="1148.97" cy="420.11" r="5.6"/><circle cx="1158.27" cy="422.01" r="5.6"/><circle cx="1167.57" cy="423.72" r="5.6"/><circle cx="1176.87" cy="425.62" r="5.6"/><circle cx="1186.16" cy="427.71" r="5.6"/><circle cx="1195.46" cy="438.3" r="5.6"/><circle cx="1204.76" cy="447.74" r="5.6"/><circle cx="1214.06" cy="456.74" r="5.6"/><circle cx="1223.36" cy="466.69" r="5.6"/><circle cx="1232.66" cy="478.29" r="5.6"/><circle cx="1241.96" cy="491.09" r="5.6"/><circle cx="1251.26" cy="507.09" r="5.6"/><circle cx="1260.56" cy="523.83" r="5.6"/><circle cx="1269.86" cy="540.12" r="5.6"/><circle cx="1279.15" cy="554.31" r="5.6"/><circle cx="1288.45" cy="567.69" r="5.6"/><circle cx="1297.75" cy="580.46" r="5.6"/><circle cx="1307.05" cy="592.18" r="5.6"/><circle cx="1316.35" cy="602.89" r="5.6"/><circle cx="1325.65" cy="612.46" r="5.6"/><circle cx="1334.95" cy="621.5" r="5.6"/><circle cx="1344.25" cy="629.8" r="5.6"/><circle cx="1353.55" cy="637.5" r="5.6"/><circle cx="1362.84" cy="644.79" r="5.6"/><circle cx="1372.14" cy="651.76" r="5.6"/><circle cx="1381.44" cy="657.88" r="5.6"/><circle cx="1390.74" cy="663.71" r="5.6"/><circle cx="1400.04" cy="668.87" r="5.6"/><circle cx="1409.34" cy="673.63" r="5.6"/><circle cx="1418.64" cy="678.25" r="5.6"/><circle cx="1427.94" cy="682.63" r="5.6"/><circle cx="1437.24" cy="685.98" r="5.6"/><circle cx="1446.54" cy="689.31" r="5.6"/><circle cx="1455.83" cy="692.32" r="5.6"/><circle cx="1465.13" cy="695.17" r="5.6"/><circle cx="1474.43" cy="697.71" r="5.6"/><circle cx="1483.73" cy="701.2" r="5.6"/><circle cx="1493.03" cy="705" r="5.6"/></g>
<g fill="#fff" stroke="#000" stroke-width="3.0"><circle cx="879.3" cy="390" r="4.05"/><circle cx="888.6" cy="390" r="4.05"/><circle cx="897.9" cy="390" r="4.05"/><circle cx="907.2" cy="390" r="4.05"/><circle cx="916.5" cy="390" r="4.05"/><circle cx="925.79" cy="390" r="4.05"/><circle cx="935.09" cy="390" r="4.05"/><circle cx="944.39" cy="390" r="4.05"/><circle cx="953.69" cy="390" r="4.05"/><circle cx="962.99" cy="390" r="4.05"/><circle cx="972.29" cy="390" r="4.05"/><circle cx="981.59" cy="390" r="4.05"/><circle cx="990.89" cy="390" r="4.05"/><circle cx="1000.19" cy="390" r="4.05"/><circle cx="1009.49" cy="390" r="4.05"/><circle cx="1018.78" cy="390" r="4.05"/><circle cx="1028.08" cy="390" r="4.05"/><circle cx="1037.38" cy="390" r="4.05"/><circle cx="1046.68" cy="390" r="4.05"/><circle cx="1055.98" cy="390" r="4.05"/><circle cx="1065.28" cy="390" r="4.05"/><circle cx="1074.58" cy="390" r="4.05"/><circle cx="1083.88" cy="390" r="4.05"/><circle cx="1093.18" cy="390" r="4.05"/><circle cx="1102.47" cy="390" r="4.05"/><circle cx="1111.77" cy="390" r="4.05"/><circle cx="1121.07" cy="390" r="4.05"/><circle cx="1130.37" cy="390" r="4.05"/><circle cx="1139.67" cy="390" r="4.05"/><circle cx="1148.97" cy="390" r="4.05"/><circle cx="1158.27" cy="390" r="4.05"/><circle cx="1167.57" cy="390" r="4.05"/><circle cx="1176.87" cy="390" r="4.05"/><circle cx="1186.16" cy="390" r="4.05"/><circle cx="1195.46" cy="390" r="4.05"/><circle cx="1204.76" cy="390" r="4.05"/><circle cx="1214.06" cy="390" r="4.05"/><circle cx="1223.36" cy="390" r="4.05"/><circle cx="1232.66" cy="393.61" r="4.05"/><circle cx="1241.96" cy="402.68" r="4.05"/><circle cx="1251.26" cy="411.07" r="4.05"/><circle cx="1260.56" cy="418.65" r="4.05"/><circle cx="1269.86" cy="425.9" r="4.05"/><circle cx="1279.15" cy="435.32" r="4.05"/><circle cx="1288.45" cy="446" r="4.05"/><circle cx="1297.75" cy="455.44" r="4.05"/><circle cx="1307.05" cy="464.47" r="4.05"/><circle cx="1316.35" cy="472.71" r="4.05"/><circle cx="1325.65" cy="484.44" r="4.05"/><circle cx="1334.95" cy="500.41" r="4.05"/><circle cx="1344.25" cy="515.81" r="4.05"/><circle cx="1353.55" cy="529.94" r="4.05"/><circle cx="1362.84" cy="547.37" r="4.05"/><circle cx="1372.14" cy="564.49" r="4.05"/><circle cx="1381.44" cy="580.14" r="4.05"/><circle cx="1390.74" cy="595.03" r="4.05"/><circle cx="1400.04" cy="608.44" r="4.05"/><circle cx="1409.34" cy="620.8" r="4.05"/><circle cx="1418.64" cy="632.75" r="4.05"/><circle cx="1427.94" cy="643.33" r="4.05"/><circle cx="1437.24" cy="653.53" r="4.05"/><circle cx="1446.54" cy="662.98" r="4.05"/><circle cx="1455.83" cy="671.72" r="4.05"/><circle cx="1465.13" cy="679.3" r="4.05"/><circle cx="1474.43" cy="686.84" r="4.05"/><circle cx="1483.73" cy="693.84" r="4.05"/><circle cx="1493.03" cy="700.15" r="4.05"/></g>
<path d="M1253.4 679.9H1491.7" stroke="#000" stroke-width="1.7" fill="none"/>
<text class="star" x="1312.3" y="679.35" text-anchor="middle">*</text>
<text class="pl" x="924.7" y="670">D</text>
</g>
<g id="panelE">
<rect x="173" y="759.5" width="632.6" height="317" fill="none" stroke="#000" stroke-width="3.2" stroke-linejoin="round"/>
<path d="M159 1076.5H172.6M791.6 1076.5H805.2M159 1013.1H172.6M791.6 1013.1H805.2M159 949.7H172.6M791.6 949.7H805.2M159 886.3H172.6M791.6 886.3H805.2M159 822.9H172.6M791.6 822.9H805.2M159 759.5H172.6M791.6 759.5H805.2M210.22 1076.9V1090.5M284.66 1076.9V1090.5M359.1 1076.9V1090.5M433.54 1076.9V1090.5M507.98 1076.9V1090.5M582.42 1076.9V1090.5M656.86 1076.9V1090.5M731.3 1076.9V1090.5M805.74 1076.9V1090.5" fill="none" stroke="#000" stroke-width="3.1" stroke-linecap="round"/>
<path d="M554.51 759.5C556.06 759.87 560.71 758.92 563.81 761.72C566.91 764.52 570.01 771.16 573.12 776.3C576.22 781.44 579.32 787.36 582.42 792.56C585.52 797.77 588.62 802.84 591.72 807.53C594.83 812.21 597.93 816.39 601.03 820.68C604.13 824.98 607.23 829.18 610.34 833.3C613.44 837.42 616.54 840.73 619.64 845.41C622.74 850.09 625.84 856.23 628.94 861.38C632.05 866.54 635.15 871.55 638.25 876.35C641.35 881.14 644.45 885.63 647.56 890.17C650.66 894.71 653.76 899.47 656.86 903.58C659.96 907.69 663.06 911.14 666.17 914.83C669.27 918.52 672.37 921.85 675.47 925.73C678.57 929.62 681.67 933.4 684.77 938.13C687.88 942.86 690.98 948.93 694.08 954.14C697.18 959.34 700.28 964.46 703.38 969.35C706.49 974.25 709.59 978.9 712.69 983.49C715.79 988.08 718.89 992.6 722 996.9C725.1 1001.2 728.2 1005.3 731.3 1009.3C734.4 1013.3 737.5 1017.2 740.61 1020.9C743.71 1024.6 746.81 1028.02 749.91 1031.49C753.01 1034.95 756.11 1038.46 759.22 1041.69C762.32 1044.93 765.42 1047.9 768.52 1050.89C771.62 1053.87 774.72 1056.77 777.82 1059.6C780.93 1062.44 785.58 1066.53 787.13 1067.91" fill="none" stroke="#f00" stroke-width="4.7" stroke-linejoin="round"/>
<path d="M563.81 759.5V764.72M573.12 768.3V784.3M582.42 779.16V805.96M591.72 787.53V827.53M601.03 795.48V845.88M610.34 802.9V863.7M619.64 809.81V881.01M628.94 825.38V897.38M638.25 838.85V913.85M647.56 851.17V929.17M656.86 864.08V943.08M666.17 874.83V954.83M675.47 885.73V965.73M684.77 898.63V977.63M694.08 915.14V993.14M703.38 934.45V1004.25M712.69 952.99V1013.99M722 969.7V1024.1M731.3 986V1032.6M740.61 1001.7V1040.1M749.91 1015.79V1047.19M759.22 1029.29V1054.09M768.52 1041.69V1060.09M777.82 1053.6V1065.6M787.13 1064.91V1070.91M461.45 759.5V771.37M470.76 759.5V783.63M480.06 764.69V798.69M489.37 770.78V814.78M498.68 776.7V831.7M507.98 780.81V846.61M517.29 785.1V860.7M526.59 789.48V874.08M535.89 792.84V886.24M545.2 796.19V897.79M554.51 799.33V907.33M563.81 801.8V916.6M573.12 803.73V925.13M582.42 808.77V932.77M591.72 819.34V942.74M601.03 831.01V953.01M610.34 843.18V962.38M619.64 856.71V972.31M628.94 870.12V982.12M638.25 888.87V990.87M647.56 907.86V999.46M656.86 925.62V1008.02M666.17 941.82V1015.02M675.47 956.62V1022.03M684.77 970.37V1028.57M694.08 983.58V1034.38M703.38 995.9V1039.5M712.69 1006.38V1045.18M722 1017.7V1049.7M731.3 1027.5V1054.5M740.61 1036.59V1058.39M749.91 1044.66V1062.06M759.22 1051.43V1065.43M768.52 1058.4V1068.6M777.82 1064.64V1071.24M787.13 1069.52V1073.52" fill="none" stroke="#000" stroke-width="2.8" stroke-linecap="round"/>
<path d="M452.15 759.5C453.7 760.33 458.35 762.37 461.45 764.51C464.56 766.64 467.66 769.27 470.76 772.31C473.86 775.34 476.96 779.22 480.06 782.7C483.17 786.19 486.27 789.86 489.37 793.2C492.47 796.53 495.57 799.61 498.68 802.71C501.78 805.81 504.88 808.84 507.98 811.81C511.08 814.77 514.18 817.72 517.29 820.52C520.39 823.32 523.49 825.95 526.59 828.61C529.69 831.26 532.79 834 535.89 836.44C539 838.87 542.1 841.01 545.2 843.22C548.3 845.43 551.4 847.6 554.51 849.72C557.61 851.84 560.71 853.88 563.81 855.93C566.91 857.98 570.01 859.97 573.12 862.02C576.22 864.07 579.32 865.31 582.42 868.23C585.52 871.15 588.62 875.83 591.72 879.55C594.83 883.27 597.93 886.95 601.03 890.55C604.13 894.15 607.23 897.44 610.34 901.14C613.44 904.83 616.54 908.67 619.64 912.74C622.74 916.81 625.84 921.19 628.94 925.54C632.05 929.9 635.15 934.39 638.25 938.86C641.35 943.33 644.45 948.05 647.56 952.36C650.66 956.68 653.76 960.74 656.86 964.76C659.96 968.77 663.06 972.84 666.17 976.45C669.27 980.07 672.37 983.22 675.47 986.47C678.57 989.73 681.67 992.85 684.77 995.98C687.88 999.12 690.98 1002.31 694.08 1005.27C697.18 1008.23 700.28 1011.03 703.38 1013.77C706.49 1016.5 709.59 1019.2 712.69 1021.69C715.79 1024.18 718.89 1026.4 722 1028.7C725.1 1030.99 728.2 1033.25 731.3 1035.48C734.4 1037.71 737.5 1039.94 740.61 1042.07C743.71 1044.21 746.81 1046.28 749.91 1048.29C753.01 1050.29 756.11 1052.25 759.22 1054.09C762.32 1055.92 765.42 1057.62 768.52 1059.29C771.62 1060.96 774.72 1062.64 777.82 1064.11C780.93 1065.57 785.58 1067.43 787.13 1068.1" fill="none" stroke="#000" stroke-width="5.9" stroke-linejoin="round" stroke-linecap="round"/>
<g fill="#fff" stroke="#000" stroke-width="3.0"><circle cx="173" cy="759.5" r="4.05"/><circle cx="182.31" cy="759.5" r="4.05"/><circle cx="191.61" cy="759.5" r="4.05"/><circle cx="200.91" cy="759.5" r="4.05"/><circle cx="210.22" cy="759.5" r="4.05"/><circle cx="219.53" cy="759.5" r="4.05"/><circle cx="228.83" cy="759.5" r="4.05"/><circle cx="238.13" cy="759.5" r="4.05"/><circle cx="247.44" cy="759.5" r="4.05"/><circle cx="256.75" cy="759.5" r="4.05"/><circle cx="266.05" cy="759.5" r="4.05"/><circle cx="275.36" cy="759.5" r="4.05"/><circle cx="284.66" cy="759.5" r="4.05"/><circle cx="293.97" cy="759.5" r="4.05"/><circle cx="303.27" cy="759.5" r="4.05"/><circle cx="312.57" cy="759.5" r="4.05"/><circle cx="321.88" cy="759.5" r="4.05"/><circle cx="331.19" cy="759.5" r="4.05"/><circle cx="340.49" cy="759.5" r="4.05"/><circle cx="349.8" cy="759.5" r="4.05"/><circle cx="359.1" cy="759.5" r="4.05"/><circle cx="368.4" cy="759.5" r="4.05"/><circle cx="377.71" cy="759.5" r="4.05"/><circle cx="387.01" cy="759.5" r="4.05"/><circle cx="396.32" cy="759.5" r="4.05"/><circle cx="405.62" cy="759.5" r="4.05"/><circle cx="414.93" cy="759.5" r="4.05"/><circle cx="424.24" cy="759.5" r="4.05"/><circle cx="433.54" cy="759.5" r="4.05"/><circle cx="442.85" cy="759.5" r="4.05"/><circle cx="452.15" cy="759.5" r="4.05"/><circle cx="461.45" cy="759.5" r="4.05"/><circle cx="470.76" cy="759.5" r="4.05"/><circle cx="480.06" cy="759.5" r="4.05"/><circle cx="489.37" cy="759.5" r="4.05"/><circle cx="498.68" cy="759.5" r="4.05"/><circle cx="507.98" cy="759.5" r="4.05"/><circle cx="517.29" cy="759.5" r="4.05"/><circle cx="526.59" cy="759.5" r="4.05"/><circle cx="535.89" cy="759.5" r="4.05"/><circle cx="545.2" cy="759.5" r="4.05"/><circle cx="554.51" cy="759.5" r="4.05"/><circle cx="563.81" cy="761.72" r="4.05"/><circle cx="573.12" cy="776.3" r="4.05"/><circle cx="582.42" cy="792.56" r="4.05"/><circle cx="591.72" cy="807.53" r="4.05"/><circle cx="601.03" cy="820.68" r="4.05"/><circle cx="610.34" cy="833.3" r="4.05"/><circle cx="619.64" cy="845.41" r="4.05"/><circle cx="628.94" cy="861.38" r="4.05"/><circle cx="638.25" cy="876.35" r="4.05"/><circle cx="647.56" cy="890.17" r="4.05"/><circle cx="656.86" cy="903.58" r="4.05"/><circle cx="666.17" cy="914.83" r="4.05"/><circle cx="675.47" cy="925.73" r="4.05"/><circle cx="684.77" cy="938.13" r="4.05"/><circle cx="694.08" cy="954.14" r="4.05"/><circle cx="703.38" cy="969.35" r="4.05"/><circle cx="712.69" cy="983.49" r="4.05"/><circle cx="722" cy="996.9" r="4.05"/><circle cx="731.3" cy="1009.3" r="4.05"/><circle cx="740.61" cy="1020.9" r="4.05"/><circle cx="749.91" cy="1031.49" r="4.05"/><circle cx="759.22" cy="1041.69" r="4.05"/><circle cx="768.52" cy="1050.89" r="4.05"/><circle cx="777.82" cy="1059.6" r="4.05"/><circle cx="787.13" cy="1067.91" r="4.05"/></g>
<text class="pl" x="205.1" y="1043.4">E</text>
<text class="tk" x="137.3" y="1092.5" text-anchor="end" textLength="55.8" lengthAdjust="spacingAndGlyphs">0.0</text>
<text class="tk" x="137.3" y="1029.1" text-anchor="end" textLength="55.8" lengthAdjust="spacingAndGlyphs">0.2</text>
<text class="tk" x="137.3" y="965.7" text-anchor="end" textLength="55.8" lengthAdjust="spacingAndGlyphs">0.4</text>
<text class="tk" x="137.3" y="902.3" text-anchor="end" textLength="55.8" lengthAdjust="spacingAndGlyphs">0.6</text>
<text class="tk" x="137.3" y="838.9" text-anchor="end" textLength="55.8" lengthAdjust="spacingAndGlyphs">0.8</text>
<text class="tk" x="137.3" y="775.5" text-anchor="end" textLength="55.8" lengthAdjust="spacingAndGlyphs">1.0</text>
<text class="tk" x="210.22" y="1152.5" text-anchor="middle" textLength="56" lengthAdjust="spacingAndGlyphs">2.6</text>
<text class="tk" x="284.66" y="1152.5" text-anchor="middle" textLength="56" lengthAdjust="spacingAndGlyphs">2.8</text>
<text class="tk" x="359.1" y="1152.5" text-anchor="middle" textLength="56" lengthAdjust="spacingAndGlyphs">3.0</text>
<text class="tk" x="433.54" y="1152.5" text-anchor="middle" textLength="56" lengthAdjust="spacingAndGlyphs">3.2</text>
<text class="tk" x="507.98" y="1152.5" text-anchor="middle" textLength="56" lengthAdjust="spacingAndGlyphs">3.4</text>
<text class="tk" x="582.42" y="1152.5" text-anchor="middle" textLength="56" lengthAdjust="spacingAndGlyphs">3.6</text>
<text class="tk" x="656.86" y="1152.5" text-anchor="middle" textLength="56" lengthAdjust="spacingAndGlyphs">3.8</text>
<text class="tk" x="731.3" y="1152.5" text-anchor="middle" textLength="56" lengthAdjust="spacingAndGlyphs">4.0</text>
<text class="tk" x="805.74" y="1152.5" text-anchor="middle" textLength="56" lengthAdjust="spacingAndGlyphs">4.2</text>
</g>
<g id="panelF">
<rect x="879.3" y="759.5" width="632.7" height="317" fill="none" stroke="#000" stroke-width="3.2" stroke-linejoin="round"/>
<path d="M879.7 1076.5H893.3M1498 1076.5H1511.6M879.7 1013.1H893.3M1498 1013.1H1511.6M879.7 949.7H893.3M1498 949.7H1511.6M879.7 886.3H893.3M1498 886.3H1511.6M879.7 822.9H893.3M1498 822.9H1511.6M879.7 759.5H893.3M1498 759.5H1511.6M916.52 1076.9V1090.5M990.96 1076.9V1090.5M1065.4 1076.9V1090.5M1139.84 1076.9V1090.5M1214.28 1076.9V1090.5M1288.72 1076.9V1090.5M1363.16 1076.9V1090.5M1437.6 1076.9V1090.5M1512.04 1076.9V1090.5" fill="none" stroke="#000" stroke-width="3.1" stroke-linecap="round"/>
<path d="M1158.27 759.5C1159.82 761.03 1164.47 765.79 1167.57 768.69C1170.67 771.6 1173.77 774.29 1176.87 776.93C1179.97 779.58 1183.07 782.06 1186.16 784.54C1189.26 787.03 1192.36 789.35 1195.46 791.83C1198.56 794.32 1201.66 796.48 1204.76 799.44C1207.86 802.4 1210.96 806.34 1214.06 809.59C1217.16 812.83 1220.26 815.84 1223.36 818.91C1226.46 821.97 1229.56 825.14 1232.66 827.97C1235.76 830.8 1238.86 832.99 1241.96 835.9C1245.06 838.8 1248.16 841.34 1251.26 845.41C1254.36 849.48 1257.46 855.5 1260.56 860.31C1263.66 865.11 1266.76 869.78 1269.86 874.25C1272.96 878.73 1276.05 882.68 1279.15 887.16C1282.25 891.63 1285.35 896.23 1288.45 901.1C1291.55 905.98 1294.65 911.52 1297.75 916.41C1300.85 921.31 1303.95 925.9 1307.05 930.46C1310.15 935.02 1313.25 939.49 1316.35 943.77C1319.45 948.06 1322.55 952.26 1325.65 956.17C1328.75 960.08 1331.85 963.71 1334.95 967.23C1338.05 970.75 1341.15 973.94 1344.25 977.28C1347.35 980.62 1350.45 984.04 1353.55 987.26C1356.65 990.49 1359.75 993.68 1362.84 996.62C1365.94 999.55 1369.04 1002.15 1372.14 1004.86C1375.24 1007.56 1378.34 1010.28 1381.44 1012.85C1384.54 1015.41 1387.64 1017.92 1390.74 1020.23C1393.84 1022.55 1396.94 1024.64 1400.04 1026.73C1403.14 1028.82 1406.24 1030.76 1409.34 1032.75C1412.44 1034.75 1415.54 1036.77 1418.64 1038.68C1421.74 1040.59 1424.84 1042.49 1427.94 1044.23C1431.04 1045.97 1434.14 1047.5 1437.24 1049.14C1440.34 1050.79 1443.44 1052.55 1446.54 1054.09C1449.63 1055.63 1452.73 1057.03 1455.83 1058.4C1458.93 1059.77 1462.03 1061.06 1465.13 1062.33C1468.23 1063.6 1471.33 1064.85 1474.43 1066.04C1477.53 1067.23 1480.63 1068.32 1483.73 1069.46C1486.83 1070.61 1491.48 1072.34 1493.03 1072.92" fill="none" stroke="#f00" stroke-width="4.7" stroke-linejoin="round"/>
<path d="M1167.57 761.19V776.19M1176.87 765.63V788.23M1186.16 768.24V800.84M1195.46 771.23V812.43M1204.76 775.24V823.64M1214.06 782.59V836.59M1223.36 788.81V849.01M1232.66 794.97V860.97M1241.96 799.5V872.3M1251.26 807.41V883.41M1260.56 823.21V897.41M1269.86 837.15V911.35M1279.15 849.96V924.36M1288.45 865.1V937.1M1297.75 882.91V949.91M1307.05 899.16V961.76M1316.35 915.87V971.67M1325.65 930.67V981.67M1334.95 943.93V990.53M1344.25 955.88V998.68M1353.55 967.66V1006.86M1362.84 979.02V1014.22M1372.14 988.66V1021.06M1381.44 998.05V1027.65M1390.74 1006.83V1033.63M1400.04 1014.63V1038.83M1409.34 1022.15V1043.35M1418.64 1029.18V1048.18M1427.94 1035.93V1052.53M1437.24 1042.24V1056.04M1446.54 1048.59V1059.59M1455.83 1053.9V1062.9M1465.13 1058.83V1065.83M1474.43 1063.04V1069.04M1483.73 1066.96V1071.96M1493.03 1070.92V1074.92M1009.49 761.57V767.57M1018.78 759.5V778.88M1028.08 759.5V786.44M1037.38 759.5V793.68M1046.68 759.5V799.97M1055.98 759.5V806.11M1065.28 759.5V811.62M1074.58 759.5V816.59M1083.88 759.5V820.91M1093.18 759.5V825.03M1102.47 759.5V829.04M1111.77 759.99V833.19M1121.07 770.33V843.33M1130.37 778.72V853.32M1139.67 786.3V863.3M1148.97 797.33V875.93M1158.27 807.93V887.13M1167.57 821.64V900.24M1176.87 841.24V914.44M1186.16 860.21V927.61M1195.46 877.25V940.05M1204.76 892.15V951.15M1214.06 907.6V962M1223.36 921.57V971.37M1232.66 934.21V980.41M1241.96 945.83V988.63M1251.26 956.73V995.93M1260.56 966.78V1003.18M1269.86 975.6V1009.39M1279.15 984.39V1015.19M1288.45 992.08V1020.68M1297.75 999.69V1025.49M1307.05 1006.69V1030.29M1316.35 1012.76V1034.36M1325.65 1018.73V1038.53M1334.95 1024.39V1042.39M1344.25 1028.75V1045.95M1353.55 1033.83V1049.43M1362.84 1037.96V1051.96M1372.14 1041.84V1055.24M1381.44 1045.82V1057.42M1390.74 1049.69V1059.69M1400.04 1052.66V1061.66M1409.34 1055.6V1063.6M1418.64 1058.32V1065.32M1427.94 1060.92V1066.92M1437.24 1062.75V1068.75M1446.54 1065.12V1070.12M1455.83 1067.46V1071.46M1465.13 1069.3V1073.3M1474.43 1070.92V1074.92M1483.73 1072.91V1075.91M1493.03 1074.61V1076.5" fill="none" stroke="#000" stroke-width="2.8" stroke-linecap="round"/>
<path d="M1000.19 759.5C1001.74 760.35 1006.39 763.09 1009.49 764.57C1012.58 766.05 1015.68 767.08 1018.78 768.38C1021.88 769.67 1024.98 771.07 1028.08 772.34C1031.18 773.61 1034.28 774.8 1037.38 775.98C1040.48 777.17 1043.58 778.38 1046.68 779.47C1049.78 780.56 1052.88 781.59 1055.98 782.51C1059.08 783.44 1062.18 784.19 1065.28 785.02C1068.38 785.85 1071.48 786.69 1074.58 787.49C1077.68 788.29 1080.78 789.08 1083.88 789.81C1086.98 790.53 1090.08 791.18 1093.18 791.83C1096.28 792.49 1099.37 792.94 1102.47 793.74C1105.57 794.53 1108.67 794.41 1111.77 796.59C1114.87 798.77 1117.97 803.59 1121.07 806.83C1124.17 810.07 1127.27 813.03 1130.37 816.02C1133.47 819.02 1136.57 821.37 1139.67 824.8C1142.77 828.24 1145.87 832.84 1148.97 836.63C1152.07 840.41 1155.17 843.48 1158.27 847.53C1161.37 851.58 1164.47 855.89 1167.57 860.94C1170.67 865.99 1173.77 872.34 1176.87 877.84C1179.97 883.33 1183.07 888.77 1186.16 893.91C1189.26 899.04 1192.36 904.03 1195.46 908.65C1198.56 913.27 1201.66 917.29 1204.76 921.65C1207.86 926 1210.96 930.66 1214.06 934.8C1217.16 938.94 1220.26 942.72 1223.36 946.47C1226.46 950.22 1229.56 953.85 1232.66 957.31C1235.76 960.77 1238.86 964.06 1241.96 967.23C1245.06 970.4 1248.16 973.37 1251.26 976.33C1254.36 979.29 1257.46 982.29 1260.56 984.98C1263.66 987.68 1266.76 990.03 1269.86 992.5C1272.96 994.96 1276.05 997.47 1279.15 999.79C1282.25 1002.1 1285.35 1004.25 1288.45 1006.38C1291.55 1008.51 1294.65 1010.57 1297.75 1012.59C1300.85 1014.61 1303.95 1016.66 1307.05 1018.49C1310.15 1020.32 1313.25 1021.87 1316.35 1023.56C1319.45 1025.25 1322.55 1027 1325.65 1028.63C1328.75 1030.27 1331.85 1031.94 1334.95 1033.39C1338.05 1034.84 1341.15 1035.98 1344.25 1037.35C1347.35 1038.72 1350.45 1040.36 1353.55 1041.63C1356.65 1042.9 1359.75 1043.81 1362.84 1044.96C1365.94 1046.11 1369.04 1047.43 1372.14 1048.54C1375.24 1049.65 1378.34 1050.59 1381.44 1051.62C1384.54 1052.64 1387.64 1053.77 1390.74 1054.69C1393.84 1055.61 1396.94 1056.34 1400.04 1057.16C1403.14 1057.98 1406.24 1058.83 1409.34 1059.6C1412.44 1060.38 1415.54 1061.1 1418.64 1061.82C1421.74 1062.54 1424.84 1063.26 1427.94 1063.92C1431.04 1064.57 1434.14 1065.14 1437.24 1065.75C1440.34 1066.37 1443.44 1067.01 1446.54 1067.62C1449.63 1068.24 1452.73 1068.85 1455.83 1069.46C1458.93 1070.08 1462.03 1070.73 1465.13 1071.3C1468.23 1071.88 1471.33 1072.4 1474.43 1072.92C1477.53 1073.44 1480.63 1073.96 1483.73 1074.41C1486.83 1074.86 1491.48 1075.41 1493.03 1075.61" fill="none" stroke="#000" stroke-width="5.5" stroke-linejoin="round" stroke-linecap="round"/>
<g fill="#000"><circle cx="1009.49" cy="764.57" r="5.6"/><circle cx="1018.78" cy="768.38" r="5.6"/><circle cx="1028.08" cy="772.34" r="5.6"/><circle cx="1037.38" cy="775.98" r="5.6"/><circle cx="1046.68" cy="779.47" r="5.6"/><circle cx="1055.98" cy="782.51" r="5.6"/><circle cx="1065.28" cy="785.02" r="5.6"/><circle cx="1074.58" cy="787.49" r="5.6"/><circle cx="1083.88" cy="789.81" r="5.6"/><circle cx="1093.18" cy="791.83" r="5.6"/><circle cx="1102.47" cy="793.74" r="5.6"/><circle cx="1111.77" cy="796.59" r="5.6"/><circle cx="1121.07" cy="806.83" r="5.6"/><circle cx="1130.37" cy="816.02" r="5.6"/><circle cx="1139.67" cy="824.8" r="5.6"/><circle cx="1148.97" cy="836.63" r="5.6"/><circle cx="1158.27" cy="847.53" r="5.6"/><circle cx="1167.57" cy="860.94" r="5.6"/><circle cx="1176.87" cy="877.84" r="5.6"/><circle cx="1186.16" cy="893.91" r="5.6"/><circle cx="1195.46" cy="908.65" r="5.6"/><circle cx="1204.76" cy="921.65" r="5.6"/><circle cx="1214.06" cy="934.8" r="5.6"/><circle cx="1223.36" cy="946.47" r="5.6"/><circle cx="1232.66" cy="957.31" r="5.6"/><circle cx="1241.96" cy="967.23" r="5.6"/><circle cx="1251.26" cy="976.33" r="5.6"/><circle cx="1260.56" cy="984.98" r="5.6"/><circle cx="1269.86" cy="992.5" r="5.6"/><circle cx="1279.15" cy="999.79" r="5.6"/><circle cx="1288.45" cy="1006.38" r="5.6"/><circle cx="1297.75" cy="1012.59" r="5.6"/><circle cx="1307.05" cy="1018.49" r="5.6"/><circle cx="1316.35" cy="1023.56" r="5.6"/><circle cx="1325.65" cy="1028.63" r="5.6"/><circle cx="1334.95" cy="1033.39" r="5.6"/><circle cx="1344.25" cy="1037.35" r="5.6"/><circle cx="1353.55" cy="1041.63" r="5.6"/><circle cx="1362.84" cy="1044.96" r="5.6"/><circle cx="1372.14" cy="1048.54" r="5.6"/><circle cx="1381.44" cy="1051.62" r="5.6"/><circle cx="1390.74" cy="1054.69" r="5.6"/><circle cx="1400.04" cy="1057.16" r="5.6"/><circle cx="1409.34" cy="1059.6" r="5.6"/><circle cx="1418.64" cy="1061.82" r="5.6"/><circle cx="1427.94" cy="1063.92" r="5.6"/><circle cx="1437.24" cy="1065.75" r="5.6"/><circle cx="1446.54" cy="1067.62" r="5.6"/><circle cx="1455.83" cy="1069.46" r="5.6"/><circle cx="1465.13" cy="1071.3" r="5.6"/><circle cx="1474.43" cy="1072.92" r="5.6"/><circle cx="1483.73" cy="1074.41" r="5.6"/><circle cx="1493.03" cy="1075.61" r="5.6"/></g>
<g fill="#fff" stroke="#000" stroke-width="3.0"><circle cx="879.3" cy="759.5" r="4.05"/><circle cx="888.6" cy="759.5" r="4.05"/><circle cx="897.9" cy="759.5" r="4.05"/><circle cx="907.2" cy="759.5" r="4.05"/><circle cx="916.5" cy="759.5" r="4.05"/><circle cx="925.79" cy="759.5" r="4.05"/><circle cx="935.09" cy="759.5" r="4.05"/><circle cx="944.39" cy="759.5" r="4.05"/><circle cx="953.69" cy="759.5" r="4.05"/><circle cx="962.99" cy="759.5" r="4.05"/><circle cx="972.29" cy="759.5" r="4.05"/><circle cx="981.59" cy="759.5" r="4.05"/><circle cx="990.89" cy="759.5" r="4.05"/><circle cx="1000.19" cy="759.5" r="4.05"/><circle cx="1009.49" cy="759.5" r="4.05"/><circle cx="1018.78" cy="759.5" r="4.05"/><circle cx="1028.08" cy="759.5" r="4.05"/><circle cx="1037.38" cy="759.5" r="4.05"/><circle cx="1046.68" cy="759.5" r="4.05"/><circle cx="1055.98" cy="759.5" r="4.05"/><circle cx="1065.28" cy="759.5" r="4.05"/><circle cx="1074.58" cy="759.5" r="4.05"/><circle cx="1083.88" cy="759.5" r="4.05"/><circle cx="1093.18" cy="759.5" r="4.05"/><circle cx="1102.47" cy="759.5" r="4.05"/><circle cx="1111.77" cy="759.5" r="4.05"/><circle cx="1121.07" cy="759.5" r="4.05"/><circle cx="1130.37" cy="759.5" r="4.05"/><circle cx="1139.67" cy="759.5" r="4.05"/><circle cx="1148.97" cy="759.5" r="4.05"/><circle cx="1158.27" cy="759.5" r="4.05"/><circle cx="1167.57" cy="768.69" r="4.05"/><circle cx="1176.87" cy="776.93" r="4.05"/><circle cx="1186.16" cy="784.54" r="4.05"/><circle cx="1195.46" cy="791.83" r="4.05"/><circle cx="1204.76" cy="799.44" r="4.05"/><circle cx="1214.06" cy="809.59" r="4.05"/><circle cx="1223.36" cy="818.91" r="4.05"/><circle cx="1232.66" cy="827.97" r="4.05"/><circle cx="1241.96" cy="835.9" r="4.05"/><circle cx="1251.26" cy="845.41" r="4.05"/><circle cx="1260.56" cy="860.31" r="4.05"/><circle cx="1269.86" cy="874.25" r="4.05"/><circle cx="1279.15" cy="887.16" r="4.05"/><circle cx="1288.45" cy="901.1" r="4.05"/><circle cx="1297.75" cy="916.41" r="4.05"/><circle cx="1307.05" cy="930.46" r="4.05"/><circle cx="1316.35" cy="943.77" r="4.05"/><circle cx="1325.65" cy="956.17" r="4.05"/><circle cx="1334.95" cy="967.23" r="4.05"/><circle cx="1344.25" cy="977.28" r="4.05"/><circle cx="1353.55" cy="987.26" r="4.05"/><circle cx="1362.84" cy="996.62" r="4.05"/><circle cx="1372.14" cy="1004.86" r="4.05"/><circle cx="1381.44" cy="1012.85" r="4.05"/><circle cx="1390.74" cy="1020.23" r="4.05"/><circle cx="1400.04" cy="1026.73" r="4.05"/><circle cx="1409.34" cy="1032.75" r="4.05"/><circle cx="1418.64" cy="1038.68" r="4.05"/><circle cx="1427.94" cy="1044.23" r="4.05"/><circle cx="1437.24" cy="1049.14" r="4.05"/><circle cx="1446.54" cy="1054.09" r="4.05"/><circle cx="1455.83" cy="1058.4" r="4.05"/><circle cx="1465.13" cy="1062.33" r="4.05"/><circle cx="1474.43" cy="1066.04" r="4.05"/><circle cx="1483.73" cy="1069.46" r="4.05"/><circle cx="1493.03" cy="1072.92" r="4.05"/></g>
<path d="M1180.5 1054.3H1494.8" stroke="#000" stroke-width="1.7" fill="none"/>
<text class="star" x="1209.3" y="1048.2" text-anchor="middle">*</text>
<text class="pl" x="924.7" y="1043.4">F</text>
<text class="tk" x="916.52" y="1152.5" text-anchor="middle" textLength="56" lengthAdjust="spacingAndGlyphs">2.6</text>
<text class="tk" x="990.96" y="1152.5" text-anchor="middle" textLength="56" lengthAdjust="spacingAndGlyphs">2.8</text>
<text class="tk" x="1065.4" y="1152.5" text-anchor="middle" textLength="56" lengthAdjust="spacingAndGlyphs">3.0</text>
<text class="tk" x="1139.84" y="1152.5" text-anchor="middle" textLength="56" lengthAdjust="spacingAndGlyphs">3.2</text>
<text class="tk" x="1214.28" y="1152.5" text-anchor="middle" textLength="56" lengthAdjust="spacingAndGlyphs">3.4</text>
<text class="tk" x="1288.72" y="1152.5" text-anchor="middle" textLength="56" lengthAdjust="spacingAndGlyphs">3.6</text>
<text class="tk" x="1363.16" y="1152.5" text-anchor="middle" textLength="56" lengthAdjust="spacingAndGlyphs">3.8</text>
<text class="tk" x="1437.6" y="1152.5" text-anchor="middle" textLength="56" lengthAdjust="spacingAndGlyphs">4.0</text>
<text class="tk" x="1512.04" y="1152.5" text-anchor="middle" textLength="56" lengthAdjust="spacingAndGlyphs">4.2</text>
</g>
<text class="ax" transform="translate(38.4 548.4) rotate(-90)" text-anchor="middle" textLength="433.6" lengthAdjust="spacingAndGlyphs">Relative Transpiration</text>
<text class="ax" style="font-weight:normal;font-size:43.5px;stroke:#000;stroke-width:0.9px" x="773" y="1254.1" textLength="33.4" lengthAdjust="spacingAndGlyphs">Ψ</text>
<text class="sub" x="806.8" y="1269.3">S</text>
<text class="ax" style="font-size:45px" x="837.5" y="1254.3" textLength="77.5" lengthAdjust="spacingAndGlyphs"><tspan dy="2.2">[</tspan><tspan dy="-2.2">pF</tspan><tspan dy="2.2">]</tspan></text>
</svg>
</body>
</html>
